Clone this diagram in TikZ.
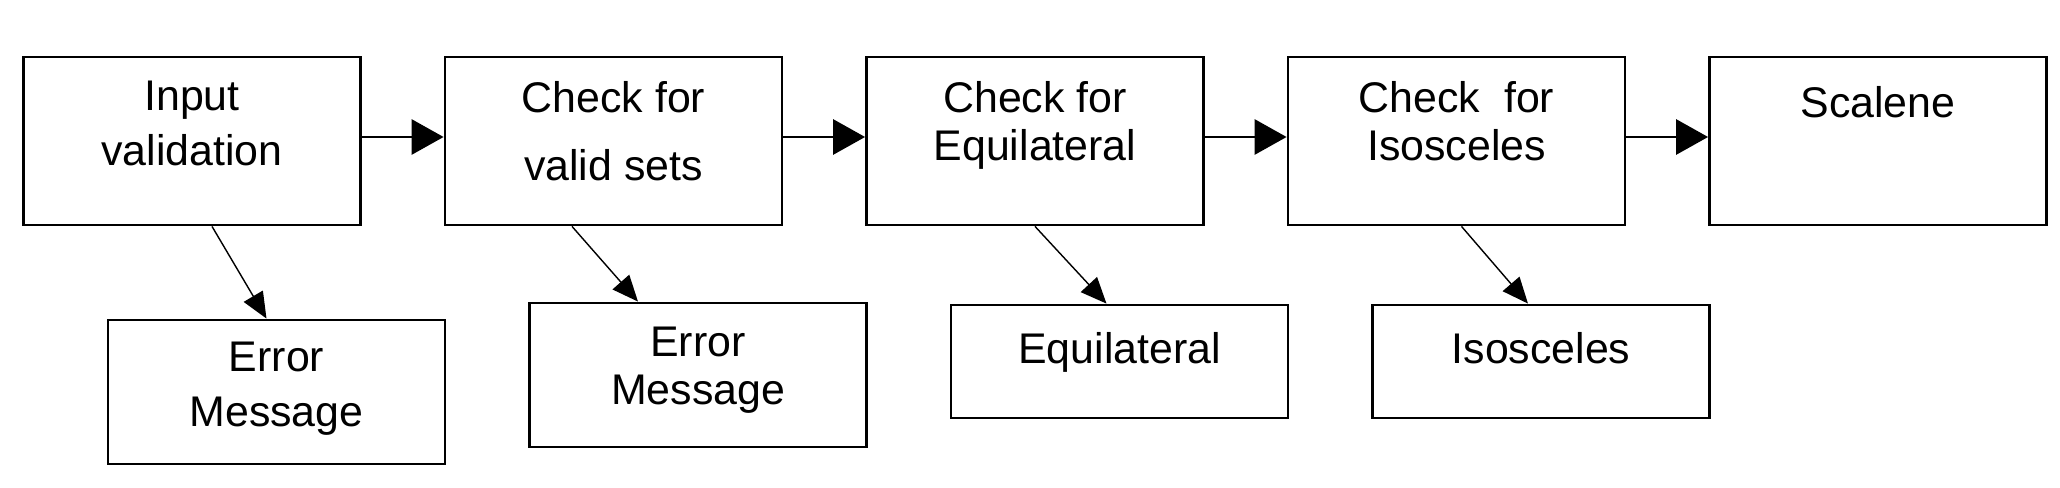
\documentclass[tikz,border=0pt]{standalone}
\usepackage{fontspec}
\setmainfont{Liberation Sans}
\usetikzlibrary{arrows.meta}

\tikzset{
  box/.style={draw=black, line width=0.8pt, minimum width=3.37cm, inner sep=0pt},
  txt/.style={anchor=north, align=center, inner sep=0pt, font=\fontsize{12.2}{15.6}\selectfont},
  flow/.style={line width=0.85pt, -{Triangle[length=0.32cm,width=0.35cm]}},
  down/.style={line width=0.4pt, -{Triangle[length=0.26cm,width=0.22cm]}}
}

\begin{document}
\begin{tikzpicture}[x=1cm,y=1cm]
\useasboundingbox (0,0) rectangle (20.6,-4.88);

%top row
\node[box, minimum height=1.68cm] (input) at (1.92,-1.41) {};
\node[box, minimum height=1.68cm] (validset) at (6.135,-1.41) {};
\node[box, minimum height=1.68cm] (equicheck) at (10.35,-1.41) {};
\node[box, minimum height=1.68cm] (isocheck) at (14.565,-1.41) {};
\node[box, minimum height=1.68cm] (scalene) at (18.78,-1.41) {};

%bottom row
\node[box, minimum height=1.44cm] (errone) at (2.765,-3.92) {};
\node[box, minimum height=1.44cm] (errtwo) at (6.98,-3.75) {};
\node[box, minimum height=1.13cm] (equilat) at (11.195,-3.615) {};
\node[box, minimum height=1.13cm] (isosc) at (15.41,-3.615) {};

%labels
\node[txt] (input-lbl) at ([yshift=-0.25cm]input.north) {Input\\validation};
\node[txt] (validset-lbl) at ([yshift=-0.25cm]validset.north) {Check for\\[3.7pt]valid sets};
\node[txt] (equicheck-lbl) at ([yshift=-0.25cm]equicheck.north) {Check for\\[-2pt]Equilateral};
\node[txt] (isocheck-lbl) at ([yshift=-0.25cm]isocheck.north) {Check\ \ for\\[-2pt]Isosceles};
\node[txt] (scalene-lbl) at ([yshift=-0.30cm]scalene.north) {Scalene};
\node[txt] (errone-lbl) at ([yshift=-0.23cm]errone.north) {Error\\Message};
\node[txt] (errtwo-lbl) at ([yshift=-0.25cm]errtwo.north) {Error\\[-2pt]Message};
\node[txt] (equilat-lbl) at ([yshift=-0.28cm]equilat.north) {Equilateral};
\node[txt] (isosc-lbl) at ([yshift=-0.28cm]isosc.north) {Isosceles};

%arrows
\draw[flow] ([yshift=0.04cm]input.east) -- ([yshift=0.04cm]validset.west);
\draw[flow] ([yshift=0.04cm]validset.east) -- ([yshift=0.04cm]equicheck.west);
\draw[flow] ([yshift=0.04cm]equicheck.east) -- ([yshift=0.04cm]isocheck.west);
\draw[flow] ([yshift=0.04cm]isocheck.east) -- ([yshift=0.04cm]scalene.west);

\draw[down] ([xshift=0.2cm]input.south) -- ([xshift=-0.1cm]errone.north);
\draw[down] ([xshift=-0.415cm]validset.south) -- ([xshift=-0.6cm]errtwo.north);
\draw[down] (equicheck.south) -- ([xshift=-0.13cm]equilat.north);
\draw[down] ([xshift=0.05cm]isocheck.south) -- ([xshift=-0.13cm]isosc.north);
\end{tikzpicture}
\end{document}
